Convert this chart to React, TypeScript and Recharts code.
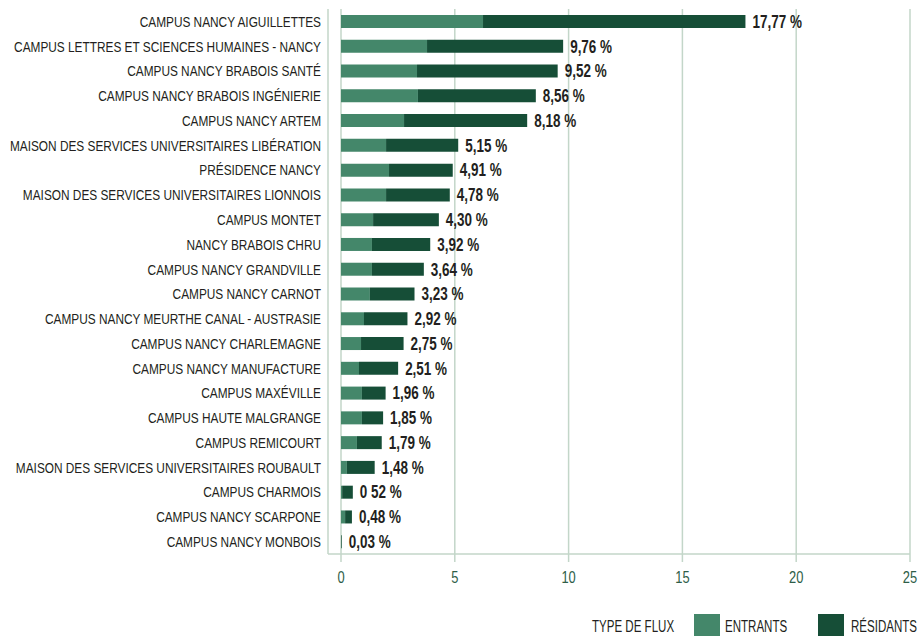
import React from 'react';
import { BarChart, Bar, XAxis, YAxis, CartesianGrid, LabelList } from 'recharts';

const categories = [
  'CAMPUS NANCY AIGUILLETTES',
  'CAMPUS LETTRES ET SCIENCES HUMAINES - NANCY',
  'CAMPUS NANCY BRABOIS SANTÉ',
  'CAMPUS NANCY BRABOIS INGÉNIERIE',
  'CAMPUS NANCY ARTEM',
  'MAISON DES SERVICES UNIVERSITAIRES LIBÉRATION',
  'PRÉSIDENCE NANCY',
  'MAISON DES SERVICES UNIVERSITAIRES LIONNOIS',
  'CAMPUS MONTET',
  'NANCY BRABOIS CHRU',
  'CAMPUS NANCY GRANDVILLE',
  'CAMPUS NANCY CARNOT',
  'CAMPUS NANCY MEURTHE CANAL - AUSTRASIE',
  'CAMPUS NANCY CHARLEMAGNE',
  'CAMPUS NANCY MANUFACTURE',
  'CAMPUS MAXÉVILLE',
  'CAMPUS HAUTE MALGRANGE',
  'CAMPUS REMICOURT',
  'MAISON DES SERVICES UNIVERSITAIRES ROUBAULT',
  'CAMPUS CHARMOIS',
  'CAMPUS NANCY SCARPONE',
  'CAMPUS NANCY MONBOIS',
];

const entrants = [6.24, 3.78, 3.34, 3.38, 2.77, 1.98, 2.11, 1.98, 1.41, 1.36, 1.36, 1.27, 1.01, 0.88, 0.79, 0.92, 0.92, 0.7, 0.26, 0.05, 0.18, 0.0];
const residants = [11.53, 5.98, 6.18, 5.18, 5.41, 3.17, 2.8, 2.8, 2.89, 2.56, 2.28, 1.96, 1.91, 1.87, 1.72, 1.04, 0.93, 1.09, 1.22, 0.47, 0.3, 0.03];
const totalLabels = ['17,77 %', '9,76 %', '9,52 %', '8,56 %', '8,18 %', '5,15 %', '4,91 %', '4,78 %', '4,30 %', '3,92 %', '3,64 %', '3,23 %', '2,92 %', '2,75 %', '2,51 %', '1,96 %', '1,85 %', '1,79 %', '1,48 %', '0 52 %', '0,48 %', '0,03 %'];
const xTicks = [0, 5, 10, 15, 20, 25];
const legendTitle = 'TYPE DE FLUX';
const seriesNames = ['ENTRANTS', 'RÉSIDANTS'];

const data = categories.map((name, i) => ({
  name,
  entrants: entrants[i],
  residants: residants[i],
}));

const FONT = "'Liberation Sans', Arial, sans-serif";
const LIGHT = '#44876a';
const DARK = '#164e37';
const GRID = '#c3d6c9';
const TEXT = '#231f20';
const TICK_TEXT = '#2e5e48';

const YTick = (props: any) => {
  const { x, y, payload } = props;
  return (
    <text
      transform={`translate(${x},${y}) scale(0.79,1)`}
      dy="0.36em"
      textAnchor="end"
      fontFamily={FONT}
      fontSize={15}
      fill={TEXT}
    >
      {payload.value}
    </text>
  );
};

const XTick = (props: any) => {
  const { x, y, payload } = props;
  return (
    <text
      transform={`translate(${x},${Number(y) + 18.8}) scale(0.79,1)`}
      textAnchor="middle"
      fontFamily={FONT}
      fontSize={16.3}
      fill={TICK_TEXT}
    >
      {payload.value}
    </text>
  );
};

const ValueLabel = (props: any) => {
  const { x, y, width, height, index } = props;
  const tx = Number(x) + Number(width) + 7;
  const ty = Number(y) + Number(height) / 2;
  return (
    <text
      transform={`translate(${tx},${ty}) scale(0.77,1)`}
      dy="0.36em"
      textAnchor="start"
      fontFamily={FONT}
      fontWeight="bold"
      fontSize={17.5}
      fill={TEXT}
    >
      {totalLabels[index]}
    </text>
  );
};

export default function App() {
  return (
    <div style={{ position: 'absolute', left: 0, top: 0, width: 919, height: 636, overflow: 'hidden', background: '#fff' }}>
      <BarChart
        width={919}
        height={636}
        data={data}
        layout="vertical"
        margin={{ top: 9, right: 9, bottom: 52, left: 0 }}
      >
        <CartesianGrid vertical horizontal={false} stroke={GRID} strokeWidth={1.5} />
        <XAxis
          type="number"
          domain={[0, 25]}
          ticks={xTicks}
          interval={0}
          padding={{ left: 13, right: 0 }}
          axisLine={{ stroke: GRID, strokeWidth: 1.5 }}
          tickLine={{ stroke: GRID, strokeWidth: 1.5 }}
          tickSize={8}
          tickMargin={2}
          height={30}
          tick={<XTick />}
        />
        <YAxis
          type="category"
          dataKey="name"
          width={328}
          axisLine={false}
          tickLine={false}
          tickSize={0}
          tickMargin={7}
          interval={0}
          tick={<YTick />}
        />
        <Bar dataKey="entrants" stackId="a" fill={LIGHT} barSize={13} isAnimationActive={false} />
        <Bar dataKey="residants" stackId="a" fill={DARK} barSize={13} isAnimationActive={false}>
          <LabelList dataKey="residants" content={<ValueLabel />} />
        </Bar>
      </BarChart>
      <svg width={919} height={636} style={{ position: 'absolute', left: 0, top: 0, pointerEvents: 'none' }}>
        <text transform="translate(592,632) scale(0.68,1)" fontFamily={FONT} fontSize={17} fill={TEXT}>
          {legendTitle}
        </text>
        <rect x={694} y={614} width={26} height={26} fill={LIGHT} />
        <text transform="translate(725,632) scale(0.68,1)" fontFamily={FONT} fontSize={17} fill={TEXT}>
          {seriesNames[0]}
        </text>
        <rect x={818} y={614} width={26} height={26} fill={DARK} />
        <text transform="translate(851,632) scale(0.68,1)" fontFamily={FONT} fontSize={17} fill={TEXT}>
          {seriesNames[1]}
        </text>
      </svg>
    </div>
  );
}
